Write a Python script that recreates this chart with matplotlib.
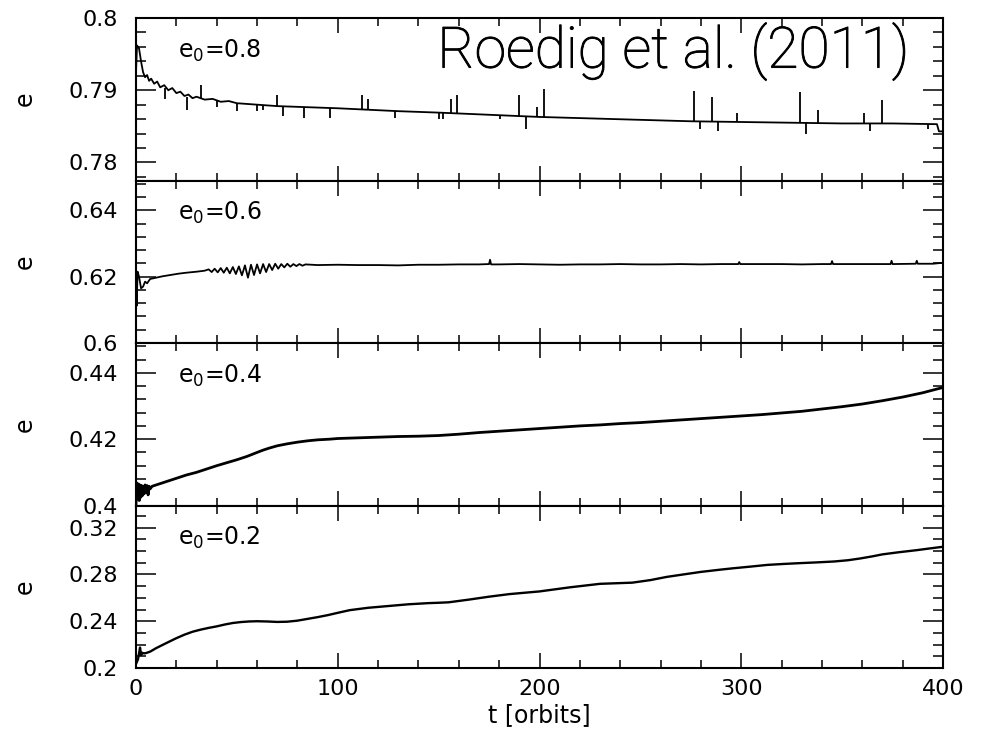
import numpy as np
import matplotlib.pyplot as plt
import matplotlib.patheffects as pe
from matplotlib.ticker import MultipleLocator, FormatStrFormatter

# ------------------------------------------------------------
# data (t in orbits, e = eccentricity)
# ------------------------------------------------------------
# e0 = 0.8
t08 = [0, 0.5, 1.5, 2.5, 3.5, 4.5, 5.5, 6.5, 7.5, 9, 10.5, 12, 14, 16, 18, 20,
       22, 24, 26, 28, 30, 34, 38, 42, 46, 50, 55, 60, 65, 70, 80, 90, 100,
       115, 130, 150, 175, 200, 225, 250, 275, 300, 325, 350, 375, 397, 398,
       400]
e08 = [0.7925, 0.7962, 0.7958, 0.7940, 0.7925, 0.7918, 0.7921, 0.7913, 0.7916,
       0.7909, 0.7912, 0.7904, 0.7907, 0.7900, 0.7903, 0.7896, 0.7898, 0.7892,
       0.7894, 0.7889, 0.7891, 0.7887, 0.7888, 0.7884, 0.7885, 0.7882, 0.7881,
       0.7880, 0.7879, 0.7878, 0.7877, 0.7876, 0.7875, 0.7873, 0.7871, 0.7869,
       0.7866, 0.7863, 0.7861, 0.7859, 0.7857, 0.7856, 0.7855, 0.7854, 0.7854,
       0.7853, 0.7843, 0.7843]
spk08_t = [14.4, 25.4, 32, 40.3, 50, 59.8, 62.8, 69.7, 73, 83.3, 96, 112.2,
           115, 128.4, 150, 152, 156, 159, 180.4, 190, 193.2, 198.6, 202.2,
           276.6, 279.5, 285.7, 288.5, 297.7, 329, 332, 338, 361, 364, 370,
           392.5]
spk08_from = [0.7903, 0.7890, 0.7888, 0.7885, 0.7882, 0.7880, 0.7880, 0.7878,
              0.7878, 0.7877, 0.7876, 0.7874, 0.7873, 0.7871, 0.7869, 0.7869,
              0.7868, 0.7868, 0.7866, 0.7865, 0.7865, 0.7864, 0.7863, 0.7857,
              0.7857, 0.7857, 0.7857, 0.7856, 0.7855, 0.7855, 0.7855, 0.7854,
              0.7854, 0.7854, 0.7853]
spk08_to = [0.7888, 0.7873, 0.7907, 0.7877, 0.7871, 0.7871, 0.7872, 0.7893,
            0.7864, 0.7862, 0.7862, 0.7894, 0.7888, 0.7861, 0.7860, 0.7860,
            0.7888, 0.7894, 0.7860, 0.7894, 0.7846, 0.7877, 0.7902, 0.7899,
            0.7846, 0.7890, 0.7843, 0.7869, 0.7897, 0.7840, 0.7873, 0.7868,
            0.7843, 0.7887, 0.7846]

# e0 = 0.6
t06 = [0, 0.3, 0.8, 1.5, 2.5, 3.5, 4.5, 5.5, 7, 10, 13, 17, 21, 25, 30, 34,
       36, 37.5, 39, 40.5, 42, 43.5, 45, 46.5, 48, 49.5, 51, 52.5, 54, 55.5,
       57, 58.5, 60, 61.5, 63, 64.5, 66, 67.5, 69, 70.5, 72, 73.5, 75, 76.5,
       78, 79.5, 81, 82.5, 84,
       90, 100, 110, 120, 130, 140, 150, 160, 170, 175, 175.5, 176, 180, 190,
       200, 210, 220, 230, 240, 250, 260, 270, 280, 290, 298.5, 299, 299.5,
       310, 320, 330, 340, 344.5, 345, 345.5, 355, 365, 374, 374.5, 375,
       386.5, 387, 387.5, 395, 400]
e06 = [0.6213, 0.6112, 0.6215, 0.6200, 0.6165, 0.6170, 0.6185, 0.6180, 0.6193,
       0.6197, 0.6201, 0.6205, 0.6209, 0.6212, 0.6215, 0.6218,
       0.6222, 0.6214, 0.6224, 0.6213, 0.6226, 0.6212, 0.6227, 0.6210, 0.6229,
       0.6208, 0.6231, 0.6204, 0.6234, 0.6197, 0.6236, 0.6205, 0.6237, 0.6210,
       0.6238, 0.6214, 0.6238, 0.6220, 0.6239, 0.6224, 0.6238, 0.6228, 0.6239,
       0.6230, 0.6238, 0.6232, 0.6238, 0.6233, 0.6237,
       0.6235, 0.6236, 0.6235, 0.6235, 0.6234, 0.6236, 0.6236, 0.6237, 0.6237,
       0.6238, 0.6251, 0.6237, 0.6237, 0.6238, 0.6237, 0.6236, 0.6237, 0.6237,
       0.6238, 0.6237, 0.6237, 0.6238, 0.6237, 0.6238, 0.6238, 0.6244, 0.6238,
       0.6238, 0.6238, 0.6237, 0.6238, 0.6238, 0.6247, 0.6238, 0.6238, 0.6238,
       0.6238, 0.6248, 0.6238, 0.6239, 0.6248, 0.6239, 0.6239, 0.6242]

# e0 = 0.4
t04 = [0, 0.4, 0.8, 1.2, 1.6, 2.0, 2.4, 2.8, 3.2, 3.6, 4.0, 4.5, 5, 5.5, 6,
       6.5, 7, 8, 10, 13, 16, 20, 25, 30, 35, 40, 45, 50, 55, 60, 63, 66, 70,
       75, 80, 85, 90, 96, 100, 110, 120, 130, 140, 150, 160, 170, 180, 190,
       200, 210, 220, 230, 240, 250, 260, 270, 280, 290, 300, 310, 320, 330,
       340, 350, 360, 370, 380, 390, 400]
e04 = [0.4005, 0.4068, 0.4020, 0.4065, 0.4015, 0.4062, 0.4025, 0.4060, 0.4030,
       0.4058, 0.4035, 0.4062, 0.4040, 0.4060, 0.4032, 0.4058, 0.4050, 0.4058,
       0.4062, 0.4068, 0.4074, 0.4082, 0.4092, 0.4100, 0.4110, 0.4120, 0.4129,
       0.4138, 0.4148, 0.4160, 0.4167, 0.4173, 0.4180, 0.4186, 0.4191, 0.4195,
       0.4198, 0.4200, 0.4202, 0.4204, 0.4206, 0.4208, 0.4209, 0.4211, 0.4215,
       0.4220, 0.4224, 0.4228, 0.4232, 0.4236, 0.4240, 0.4243, 0.4247, 0.4250,
       0.4254, 0.4258, 0.4262, 0.4266, 0.4270, 0.4274, 0.4279, 0.4284, 0.4291,
       0.4298, 0.4306, 0.4316, 0.4327, 0.4340, 0.4356]

# e0 = 0.2
t02 = [0, 1, 2, 2.5, 3, 4, 5, 7, 10, 15, 20, 24, 28, 32, 36, 40, 44, 48, 52,
       56, 60, 65, 70, 75, 80, 85, 90, 95, 100, 106, 115, 125, 135, 145, 150,
       155, 165, 175, 185, 200, 215, 230, 246, 255, 263, 272, 280, 290, 296,
       305, 313, 321, 329, 337, 346, 353, 359, 365, 370, 378, 387, 394, 400]
e02 = [0.2035, 0.2075, 0.2175, 0.2110, 0.2130, 0.2125, 0.2128, 0.2140, 0.2170,
       0.2213, 0.2255, 0.2285, 0.2310, 0.2328, 0.2343, 0.2356, 0.2372, 0.2385,
       0.2393, 0.2398, 0.2400, 0.2398, 0.2394, 0.2396, 0.2405, 0.2420, 0.2435,
       0.2452, 0.2472, 0.2495, 0.2515, 0.2530, 0.2545, 0.2555, 0.2558, 0.2562,
       0.2585, 0.2610, 0.2632, 0.2655, 0.2690, 0.2720, 0.2730, 0.2752, 0.2779,
       0.2802, 0.2822, 0.2842, 0.2853, 0.2868, 0.2882, 0.2890, 0.2897, 0.2903,
       0.2911, 0.2922, 0.2937, 0.2955, 0.2972, 0.2990, 0.3008, 0.3024, 0.3037]

panel_labels = ["e$_0$=0.8", "e$_0$=0.6", "e$_0$=0.4", "e$_0$=0.2"]
ylims = [(0.7775, 0.8), (0.6, 0.649), (0.4, 0.449), (0.2, 0.339)]
ymajor = [0.01, 0.02, 0.02, 0.04]
yminor = [0.002, 0.004, 0.004, 0.01]
series = [(t08, e08), (t06, e06), (t04, e04), (t02, e02)]
lws = [1.3, 1.3, 2.0, 1.7]

# ------------------------------------------------------------
# figure
# ------------------------------------------------------------
plt.rcParams['font.family'] = 'DejaVu Sans'
plt.rcParams['mathtext.fontset'] = 'dejavusans'

fig, axes = plt.subplots(4, 1, sharex=True, figsize=(9.93, 7.39), dpi=100)
fig.subplots_adjust(left=136/993, right=943/993, top=1-18/739,
                    bottom=1-668/739, hspace=0)

for i, ax in enumerate(axes):
    t, e = series[i]
    ax.plot(t, e, color='black', lw=lws[i])
    ax.set_xlim(0, 400)
    ax.set_ylim(*ylims[i])
    ax.xaxis.set_major_locator(MultipleLocator(100))
    ax.xaxis.set_minor_locator(MultipleLocator(20))
    ax.yaxis.set_major_locator(MultipleLocator(ymajor[i]))
    ax.yaxis.set_minor_locator(MultipleLocator(yminor[i]))
    ax.yaxis.set_major_formatter(FormatStrFormatter('%g'))
    ax.tick_params(which='both', direction='in', top=True, right=True,
                   labelsize=16, width=1.1, colors='black')
    ax.tick_params(axis='x', which='major', length=11, pad=8)
    ax.tick_params(axis='x', which='minor', length=5.5)
    ax.tick_params(axis='y', which='major', length=14.5, pad=13)
    ax.tick_params(axis='y', which='minor', length=7)
    for sp in ax.spines.values():
        sp.set_linewidth(1.5)
    ax.text(0.052, 0.80, panel_labels[i], transform=ax.transAxes,
            fontsize=17, va='center', ha='left')
    ax.set_ylabel('e', fontsize=17)
    ax.yaxis.set_label_coords(-0.123, 0.5)

axes[0].vlines(spk08_t, spk08_from, spk08_to, color='black', lw=1.3)

# light sans title, stroked a little so it is not a hairline
axes[0].text(0.959, 0.695, "Roedig et al. (2011)", transform=axes[0].transAxes,
             fontsize=41, fontfamily='Roboto', fontweight='light',
             ha='right', va='baseline',
             path_effects=[pe.withStroke(linewidth=0.7, foreground='black')])

axes[-1].set_xlabel('t [orbits]', fontsize=17, labelpad=3)

fig.savefig('out.png', dpi=100)
